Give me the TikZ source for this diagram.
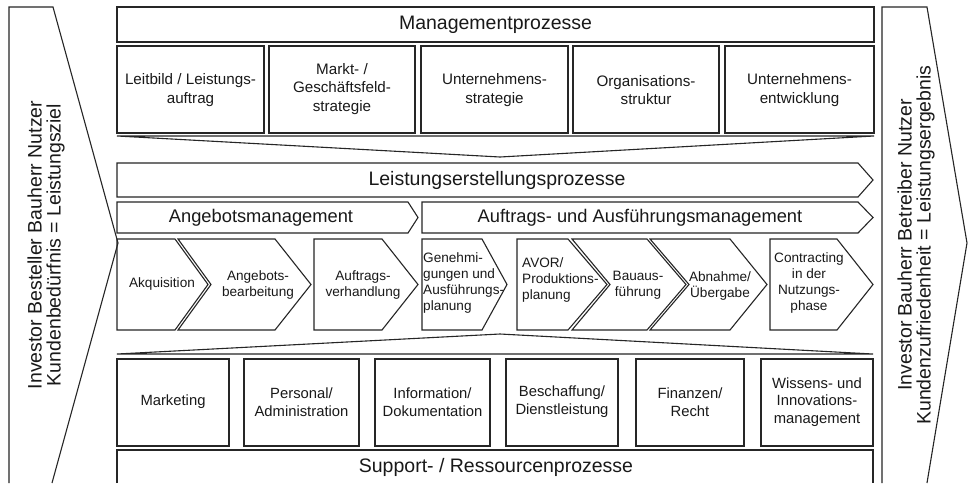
\documentclass[tikz,border=0pt]{standalone}
\usepackage{fontspec}
\setmainfont{Liberation Sans}
\begin{document}
\begin{tikzpicture}[x=1pt,y=-1pt,
  shp/.style={draw=black!85,line width=1.1pt,line join=miter},
  ttl/.style={font=\fontsize{19.5}{22}\selectfont,text=black!90,inner sep=0pt},
  sub/.style={font=\fontsize{18.3}{21}\selectfont,text=black!90,inner sep=0pt},
  boxtxt/.style={font=\fontsize{15.2}{18.2}\selectfont,align=center,text=black!90,inner sep=0pt},
  suptxt/.style={font=\fontsize{14.8}{17.8}\selectfont,align=center,text=black!90,inner sep=0pt},
  chevtxt/.style={font=\fontsize{13.6}{16.3}\selectfont,align=center,text=black!90,inner sep=0pt},
  sidetxt/.style={font=\fontsize{19.5}{19}\selectfont,align=center,text=black!90,inner sep=0pt,rotate=90}]
\useasboundingbox (0,0) rectangle (969,483);
\fill[white] (0,0) rectangle (969,483);

% side arrows
\draw[shp] (9,483) -- (9,7) -- (53,7) -- (118,243) -- (52,483);
\node[sidetxt] (kunde) at (46,245) {Investor Besteller Bauherr Nutzer\\Kundenbedürfnis = Leistungsziel};
\draw[shp] (882,483) -- (882,7) -- (927,7) -- (967,243) -- (927,483);
\node[sidetxt] (ergebnis) at (916,245) {Investor Bauherr Betreiber Nutzer\\Kundenzufriedenheit = Leistungsergebnis};

% management
\draw[shp] (117,7) rectangle (874,42);
\node[ttl] (mgmt) at (495.5,25) {Managementprozesse};
\draw[shp] (117,46) rectangle (264,133);
\draw[shp] (269,46) rectangle (415,133);
\draw[shp] (421,46) rectangle (568,133);
\draw[shp] (573,46) rectangle (719,133);
\draw[shp] (725,46) rectangle (874,133);
\node[boxtxt] (m1) at (190.5,90) {Leitbild / Leistungs-\\auftrag};
\node[boxtxt] (m2) at (342,89) {Markt- /\\Geschäftsfeld-\\strategie};
\node[boxtxt] (m3) at (494.5,90) {Unternehmens-\\strategie};
\node[boxtxt] (m4) at (646,90) {Organisations-\\struktur};
\node[boxtxt] (m5) at (799.5,90) {Unternehmens-\\entwicklung};
\draw[shp] (117,136) -- (874,136) -- (500,157) -- cycle;

% Leistungserstellung
\draw[shp] (117,163) -- (858,163) -- (873,180) -- (858,197) -- (117,197) -- cycle;
\node[ttl] (leist) at (497,180) {Leistungserstellungsprozesse};
\draw[shp] (117,202) -- (408,202) -- (418,217.5) -- (408,233) -- (117,233) -- cycle;
\node[sub] (angebot) at (261,217.5) {Angebotsmanagement};
\draw[shp] (422,202) -- (858,202) -- (873,217.5) -- (858,233) -- (422,233) -- cycle;
\node[sub] (auftrag) at (640,217.5) {Auftrags- und Ausführungsmanagement};

% chevrons
\draw[shp] (117,239) -- (175,239) -- (208,284.5) -- (175,330) -- (117,330) -- cycle;
\node[chevtxt] (c1) at (162,284) {Akquisition};
\draw[shp] (178,239) -- (275,239) -- (311,284.5) -- (275,330) -- (178,330) -- (211,284.5) -- cycle;
\node[chevtxt] (c2) at (258,285) {Angebots-\\bearbeitung};
\draw[shp] (314,239) -- (382,239) -- (418,284.5) -- (382,330) -- (314,330) -- cycle;
\node[chevtxt] (c3) at (363,285) {Auftrags-\\verhandlung};
\draw[shp] (422,239) -- (482,239) -- (507,284.5) -- (482,330) -- (422,330) -- cycle;
\node[chevtxt,align=left,anchor=west] (c4) at (423,283) {Genehmi-\\gungen und\\Ausführungs-\\planung};
\draw[shp] (517,239) -- (568,239) -- (607,284.5) -- (568,330) -- (517,330) -- cycle;
\node[chevtxt,align=left,anchor=west] (c5) at (522,280) {AVOR/\\Produktions-\\planung};
\draw[shp] (572,239) -- (647,239) -- (686,284.5) -- (647,330) -- (572,330) -- (610,284.5) -- cycle;
\node[chevtxt] (c6) at (638,285) {Bauaus-\\führung};
\draw[shp] (650,239) -- (730,239) -- (767,284.5) -- (730,330) -- (650,330) -- (689,284.5) -- cycle;
\node[chevtxt] (c7) at (720,286) {Abnahme/\\Übergabe};
\draw[shp] (770,239) -- (837,239) -- (873,284.5) -- (837,330) -- (770,330) -- cycle;
\node[chevtxt] (c8) at (809,283) {Contracting\\in der\\Nutzungs-\\phase};

% support
\draw[shp] (117,354) -- (873,354) -- (500,334) -- cycle;
\draw[shp] (117,359) rectangle (229,446);
\draw[shp] (244,359) rectangle (359,446);
\draw[shp] (375,359) rectangle (490,446);
\draw[shp] (506,359) rectangle (618,446);
\draw[shp] (636,359) rectangle (744,446);
\draw[shp] (761,359) rectangle (873,446);
\node[suptxt] (s1) at (173,402) {Marketing};
\node[suptxt] (s2) at (301.5,402) {Personal/\\Administration};
\node[suptxt] (s3) at (432.5,402) {Information/\\Dokumentation};
\node[suptxt] (s4) at (562,402) {Beschaffung/\\Dienstleistung};
\node[suptxt] (s5) at (690,402) {Finanzen/\\Recht};
\node[suptxt] (s6) at (817,402) {Wissens- und\\Innovations-\\management};
\draw[shp] (117,483) -- (117,450) -- (873,450) -- (873,483);
\node[ttl] (support) at (496,467) {Support- / Ressourcenprozesse};
\end{tikzpicture}
\end{document}
